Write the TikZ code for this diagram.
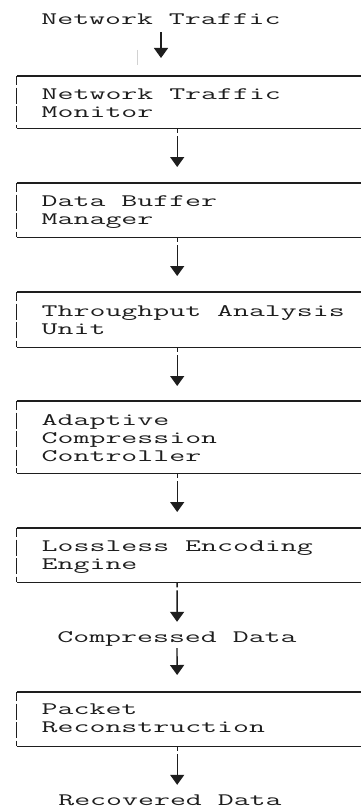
\documentclass[tikz,border=0pt]{standalone}
\usepackage{fontspec}
\newfontfamily\diagmono[FakeStretch=1.77]{Latin Modern Mono}
\usetikzlibrary{arrows.meta}
\definecolor{ink}{HTML}{1E1E1E}
\tikzset{
  frame/.style={anchor=north west, minimum width=321pt, inner sep=0pt, draw=none},
  boxtext/.style={font=\diagmono\fontsize{17.5}{18}\selectfont, text=ink, inner sep=0pt, align=left, anchor=north west},
  freetext/.style={font=\diagmono\fontsize{17.5}{18}\selectfont, text=ink, inner sep=0pt, anchor=base, text height=11pt, text depth=3pt},
  edgeh/.style={draw=ink, line width=1.3pt},
  edgev/.style={draw=ink, line width=1.7pt, dash pattern=on 16pt off 2.5pt, dash phase=7pt},
  flow/.style={draw=ink, line width=1.4pt, -{Triangle[width=14pt,length=10pt]}, dash pattern=on 5pt off 3pt on 80pt off 0pt},
  flowsolid/.style={draw=ink, line width=1.4pt, -{Triangle[width=14pt,length=10pt]}},
}
\begin{document}
\begin{tikzpicture}[x=1pt, y=-1pt]
\path[use as bounding box, fill=white] (0,0) rectangle (360,808);

% frames
\node[frame, minimum height=52pt] (b1) at (16.5,76) {};
\node[frame, minimum height=54pt] (b2) at (16.5,183) {};
\node[frame, minimum height=55pt] (b3) at (16.5,292) {};
\node[frame, minimum height=72pt] (b4) at (16.5,401) {};
\node[frame, minimum height=54pt] (b5) at (16.5,528) {};
\node[frame, minimum height=54pt] (b6) at (16.5,692) {};

\foreach \n in {b1,b2,b3,b4,b5,b6}{
  \draw[edgeh] (\n.north west) -- ([xshift=40pt]\n.north east);
  \draw[edgeh] (\n.south west) -- ([xshift=40pt]\n.south east);
  \draw[edgev] (\n.north west) -- (\n.south west);
}

% texts in boxes
\node[boxtext] (t1) at ([xshift=25pt, yshift=-10.9pt]b1.north west) {\strut Network Traffic\\\strut Monitor};
\node[boxtext] (t2) at ([xshift=25pt, yshift=-10.9pt]b2.north west) {\strut Data Buffer\\\strut Manager};
\node[boxtext] (t3) at ([xshift=25pt, yshift=-11.2pt]b3.north west) {\strut Throughput Analysis\\\strut Unit};
\node[boxtext] (t4) at ([xshift=25pt, yshift=-11.2pt]b4.north west) {\strut Adaptive\\\strut Compression\\\strut Controller};
\node[boxtext] (t5) at ([xshift=25pt, yshift=-10.9pt]b5.north west) {\strut Lossless Encoding\\\strut Engine};
\node[boxtext] (t6) at ([xshift=25pt, yshift=-9.6pt]b6.north west) {\strut Packet\\\strut Reconstruction};

% free labels
\node[freetext] (src) at (161,25) {Network Traffic};
\node[freetext] (cd) at (177,642) {Compressed Data};
\node[freetext] (rd) at (170,805) {Recovered Data};

% stray faint mark
\coordinate (m1) at (137,50);
\coordinate (m2) at (137,65);
\draw[gray!35, line width=1pt] (m1) -- (m2);

% connectors
\draw[flowsolid, shorten <=4pt, shorten >=18pt] (src.south) -- (src.south |- b1.north);
\draw[flow, shorten >=16pt] (b1.south) -- (b2.north);
\draw[flow, shorten >=16pt] (b2.south) -- (b3.north);
\draw[flow, shorten >=15pt] (b3.south) -- (b4.north);
\draw[flow, shorten >=16pt] (b4.south) -- (b5.north);
\draw[flow, shorten >=9pt] (b5.south) -- (cd.north);
\draw[flowsolid, shorten <=3pt, shorten >=17pt] (cd.south) -- (b6.north);
\draw[flow, shorten >=9pt] (b6.south) -- (b6.south |- rd.north);
\end{tikzpicture}
\end{document}
